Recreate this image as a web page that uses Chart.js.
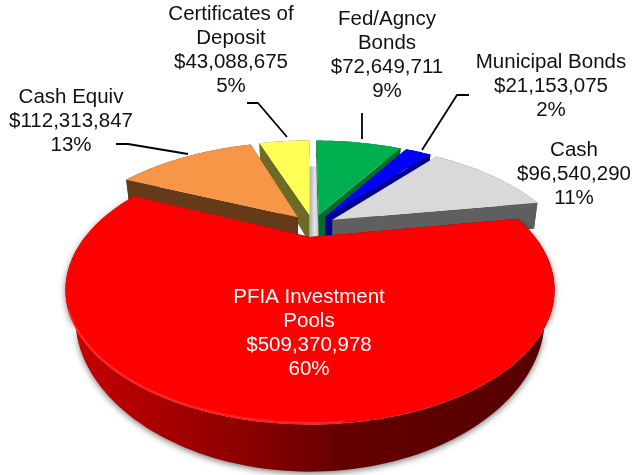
<!DOCTYPE html>
<html>
<head>
<meta charset="utf-8">
<style>html,body{margin:0;padding:0;background:#fff}#wrap{width:633px;height:475px}</style>
<script src="https://cdn.jsdelivr.net/npm/chart.js@4/dist/chart.umd.js"></script>
</head>
<body>
<div id="wrap"><canvas id="c" width="633" height="475"></canvas></div>
<script>
const categories = ["Fed/Agncy Bonds","Municipal Bonds","Cash","PFIA Investment Pools","Cash Equiv","Certificates of Deposit"];
const values = [72649711,21153075,96540290,509370978,112313847,43088675];
const percents = ["9%","2%","11%","60%","13%","5%"];
const topColors = ["#00b050","#0000ff","#d9d9d9","#ff0000","#f79646","#ffff55"];
const wallColors = ["#006a30","#000090","#5f5f5f","#900000","#653a18","#6b6b25"];
const labelLines = [["Fed/Agncy","Bonds"],["Municipal Bonds"],["Cash"],["PFIA Investment","Pools"],["Cash Equiv"],["Certificates of","Deposit"]];
const labelAnchors = [[387,19],[551,62],[574,150],[309,297],[71,97],[231,14]];
const labelInk = ["#111","#111","#111","#fff","#111","#111"];
const leaders = [[[362,113],[362,139]],[[469,95],[457,95],[422,150]],[],[],[[116,144],[128,144],[188,154]],[[247,103],[258,103],[287,137]]];
const drawOrder = [5,0,1,2,4,3];
const view = {x0:310,y0:237,a:225,b:114,p:0.392,d:22.2,k:1.81};
const redBody = {s:0.96,depth:1,reach:1};
const smallBody = {s:0.985,depth:1.45,reach:1.055};

function money(v){return "$"+v.toLocaleString("en-US");}
function project(U,V,z,body){
  const w=1-view.p*V, sc=1-(1-body.s)*z;
  return [view.x0+view.a*sc*U/w, view.y0+view.b*sc*V/w+z*body.depth*view.d/Math.pow(w,view.k)];
}
const pie3d={
  id:"pie3d",
  beforeDatasetsDraw(chart){
    const g=chart.ctx, arcs=chart.getDatasetMeta(0).data;
    const world=arcs.map(el=>{
      const r=el.outerRadius, mid=(el.startAngle+el.endAngle)/2, e=(el.options.offset||0)/4/r;
      return {s:el.startAngle,t:el.endAngle,ox:Math.cos(mid)*e,oy:Math.sin(mid)*e};
    });
    const ref=world[3];
    const frame=i=>({U:world[i].ox-ref.ox,V:world[i].oy-ref.oy});
    const rim=(i,body)=>{
      const f=frame(i),w=world[i],n=Math.max(6,Math.ceil((w.t-w.s)*40)),out=[];
      for(let j=0;j<=n;j++){const a=w.s+(w.t-w.s)*j/n;out.push([f.U+body.reach*Math.cos(a),f.V+body.reach*Math.sin(a)]);}
      return out;
    };
    const poly=pts=>{g.beginPath();pts.forEach((p,i)=>i?g.lineTo(p[0],p[1]):g.moveTo(p[0],p[1]));g.closePath();};
    const redWall=g.createLinearGradient(65,0,555,0);
    redWall.addColorStop(0,"#c80000");redWall.addColorStop(.15,"#b00000");redWall.addColorStop(.4,"#860000");
    redWall.addColorStop(.56,"#640000");redWall.addColorStop(1,"#560000");
    const fA=frame(5),fB=frame(0),midV=(fA.V+fB.V)/2;
    const sq=[project(fA.U,midV-0.61,0,smallBody),project(fB.U,midV-0.61,0,smallBody),project(fB.U,0.1,0,smallBody),project(fA.U,0.1,0,smallBody)];
    const sl=g.createLinearGradient(sq[3][0],0,sq[2][0],0);
    sl.addColorStop(0,"#a8a8a8");sl.addColorStop(.5,"#e4e4e4");sl.addColorStop(1,"#b8b8b8");
    g.save();
    g.fillStyle=sl;poly(sq);g.fill();
    drawOrder.forEach(i=>{
      const isRed=i===3, body=isRed?redBody:smallBody;
      const pts=rim(i,body),f=frame(i);
      const wallFill=isRed?redWall:wallColors[i];
      const apexT=project(f.U,f.V,0,body),apexB=project(f.U,f.V,1,body);
      const topRim=pts.map(p=>project(p[0],p[1],0,body)),lowRim=pts.map(p=>project(p[0],p[1],1,body));
      g.fillStyle=wallFill;
      if(isRed){g.shadowColor="rgba(0,0,0,.5)";g.shadowBlur=6;g.shadowOffsetY=2;}
      poly(topRim.concat(lowRim.slice().reverse()));g.fill();
      g.shadowColor="transparent";g.shadowBlur=0;g.shadowOffsetY=0;
      poly([apexT,topRim[0],lowRim[0],apexB]);g.fill();
      poly([apexT,topRim[topRim.length-1],lowRim[lowRim.length-1],apexB]);g.fill();
      g.fillStyle=topColors[i];
      poly([apexT].concat(topRim));g.fill();
      if(isRed){
        g.strokeStyle="rgba(255,80,80,.45)";g.lineWidth=2;g.lineJoin="round";g.beginPath();
        let on=false;
        topRim.forEach((p,j)=>{if(pts[j][1]>0.5&&pts[j][0]<0.1){on?g.lineTo(p[0],p[1]-1.5):g.moveTo(p[0],p[1]-1.5);on=true;}});
        g.stroke();
      }
    });
    g.restore();
    return false;
  },
  afterDraw(chart){
    const g=chart.ctx;
    g.save();
    g.strokeStyle="#000";g.lineWidth=1.8;g.lineJoin="round";
    leaders.forEach(l=>{if(!l.length)return;g.beginPath();l.forEach((p,i)=>i?g.lineTo(p[0],p[1]):g.moveTo(p[0],p[1]));g.stroke();});
    g.font='20.5px "Liberation Sans", Arial, sans-serif';g.textAlign="center";g.textBaseline="middle";
    categories.forEach((c,i)=>{
      const lines=labelLines[i].concat([money(values[i]),percents[i]]);
      g.fillStyle=labelInk[i];
      lines.forEach((t,j)=>g.fillText(t,labelAnchors[i][0],labelAnchors[i][1]+j*24.2));
    });
    g.restore();
  }
};
new Chart(document.getElementById("c"),{
  type:"pie",
  data:{labels:categories,datasets:[{data:values,backgroundColor:topColors,borderWidth:0,offset:84}]},
  options:{responsive:false,animation:false,layout:{padding:0},
    plugins:{legend:{display:false},tooltip:{enabled:false},title:{display:false}}},
  plugins:[pie3d]
});
</script>
</body>
</html>
